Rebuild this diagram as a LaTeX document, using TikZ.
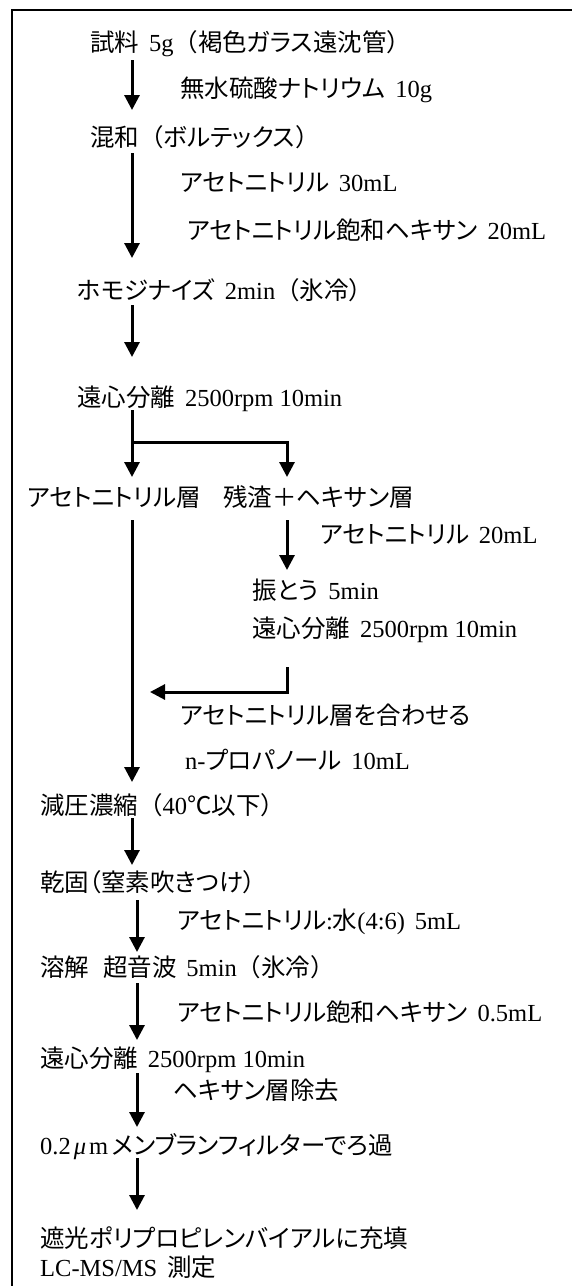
\documentclass[tikz,border=0pt]{standalone}
\usepackage{fontspec}
\usetikzlibrary{arrows.meta}
\newfontfamily\jp[RawFeature=+palt]{Noto Sans CJK JP}
\newfontfamily\jpw{Noto Sans CJK JP}
\newfontfamily\lat{Liberation Serif}
\newcommand\lt[1]{{\lat #1}}
\newcommand\lp{{\jpw （}}
\newcommand\rp{{\jpw ）}}
\newcommand\hs{\hspace{0.4em}}
\begin{document}
\begin{tikzpicture}[x=1pt,y=-1pt,
  txt/.style={anchor=west, inner sep=0pt, text height=21.5pt, text depth=3pt,
    font=\fontsize{24.5}{29}\selectfont\jp},
  arr/.style={line width=3pt, -{Triangle[width=15pt,length=15pt]}},
  ln/.style={line width=2.2pt}]
\useasboundingbox (0,0) rectangle (571,1286);
% frame
\coordinate (fr1) at (572,10);
\coordinate (fr2) at (12,10);
\coordinate (fr3) at (12,1287);
\draw[ln] (fr1) -- (fr2) -- (fr3);
% texts
\node[txt] (t1) at (90,42) {試料\hs\lt{5g}\lp 褐色ガラス遠沈管\rp};
\node[txt] (t2) at (180,88) {無水硫酸ナトリウム\hs\lt{10g}};
\node[txt] (t3) at (90,137) {混和\lp ボルテックス\rp};
\node[txt] (t4) at (180,182) {アセトニトリル\hs\lt{30mL}};
\node[txt] (t5) at (187,230) {アセトニトリル飽和ヘキサン\hs\lt{20mL}};
\node[txt] (t6) at (77,290) {ホモジナイズ\hs\lt{2min}\lp 氷冷\rp};
\node[txt] (t7) at (77,397) {遠心分離\hs\lt{2500rpm 10min}};
\node[txt] (t8) at (27,497) {アセトニトリル層};
\node[txt] (t9) at (223,497) {残渣＋ヘキサン層};
\node[txt] (t10) at (320,534) {アセトニトリル\hs\lt{20mL}};
\node[txt] (t11) at (252,590) {振とう\hs\lt{5min}};
\node[txt] (t12) at (252,628) {遠心分離\hs\lt{2500rpm 10min}};
\node[txt] (t13) at (180,715) {アセトニトリル層を合わせる};
\node[txt] (t14) at (185,760) {\lt{n-}プロパノール\hs\lt{10mL}};
\node[txt] (t15) at (40,805) {減圧濃縮\lp\lt{40}℃以下\rp};
\node[txt] (t16) at (40,882) {乾固（窒素吹きつけ）};
\node[txt] (t17) at (177,920) {アセトニトリル\lt{:}水\lt{(4:6)}\hs\lt{5mL}};
\node[txt] (t18) at (40,967) {溶解\hspace{14pt}超音波\hs\lt{5min}\lp 氷冷\rp};
\node[txt] (t19) at (177,1012) {アセトニトリル飽和ヘキサン\hs\lt{0.5mL}};
\node[txt] (t20) at (40,1058) {遠心分離\hs\lt{2500rpm 10min}};
\node[txt] (t21) at (173,1090) {ヘキサン層除去};
\node[txt] (t22) at (40,1145) {\lt{0.2\hspace{3pt}\textit{μ}\hspace{3pt}m}\hspace{4pt}メンブランフィルターでろ過};
\node[txt] (t23) at (40,1238) {遮光ポリプロピレンバイアルに充填};
\node[txt] (t24) at (40,1267) {\lt{LC-MS/MS}\hs 測定};
% arrow end points
\coordinate (a1s) at (132,60);   \coordinate (a1e) at (132,110);
\coordinate (a2s) at (132,153);  \coordinate (a2e) at (132,258);
\coordinate (a3s) at (132,305);  \coordinate (a3e) at (132,357);
\coordinate (a4s) at (132,410);  \coordinate (a4e) at (132,477);
\coordinate (b1) at (131,442);   \coordinate (b2) at (287,442); \coordinate (b3) at (287,477);
\coordinate (a5s) at (132,520);  \coordinate (a5e) at (132,782);
\coordinate (a6s) at (287,520);  \coordinate (a6e) at (287,570);
\coordinate (r1) at (287,667);   \coordinate (r2) at (287,692); \coordinate (r3) at (150,692);
\coordinate (a7s) at (132,818);  \coordinate (a7e) at (132,865);
\coordinate (a8s) at (137,900);  \coordinate (a8e) at (137,952);
\coordinate (a9s) at (137,983);  \coordinate (a9e) at (137,1040);
\coordinate (a10s) at (137,1073); \coordinate (a10e) at (137,1127);
\coordinate (a11s) at (137,1158); \coordinate (a11e) at (137,1210);
% connectors
\draw[arr] (a1s) -- (a1e);
\draw[arr] (a2s) -- (a2e);
\draw[arr] (a3s) -- (a3e);
\draw[arr] (a4s) -- (a4e);
\draw[arr] (b1) -- (b2) -- (b3);
\draw[arr] (a5s) -- (a5e);
\draw[arr] (a6s) -- (a6e);
\draw[arr] (r1) -- (r2) -- (r3);
\draw[arr] (a7s) -- (a7e);
\draw[arr] (a8s) -- (a8e);
\draw[arr] (a9s) -- (a9e);
\draw[arr] (a10s) -- (a10e);
\draw[arr] (a11s) -- (a11e);
\end{tikzpicture}
\end{document}
